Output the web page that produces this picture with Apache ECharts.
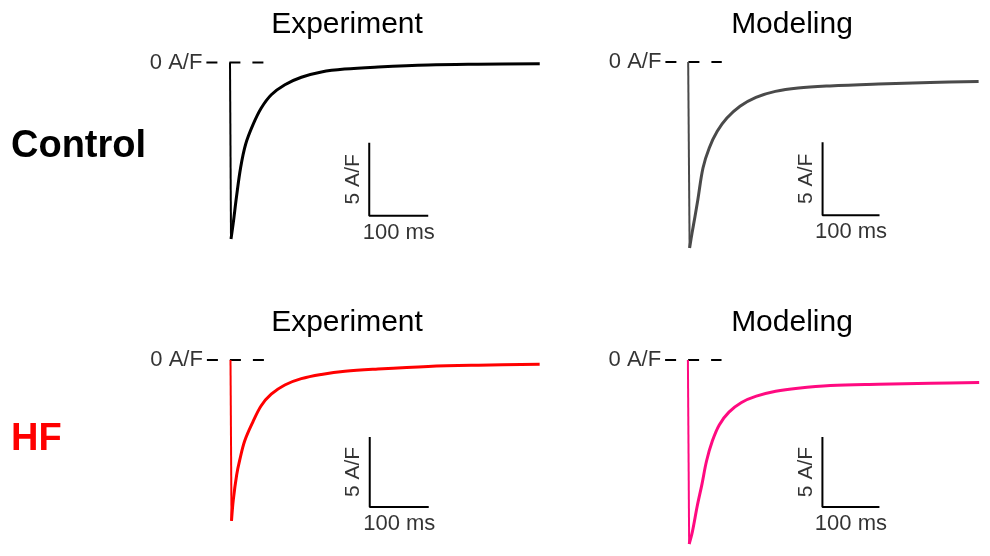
<!DOCTYPE html>
<html>
<head>
<meta charset="utf-8">
<script src="https://cdn.jsdelivr.net/npm/echarts@6/dist/echarts.min.js"></script>
<style>
  html, body { margin: 0; padding: 0; background: #fff; }
  #main { width: 990px; height: 556px; }
</style>
</head>
<body>
<div id="main"></div>
<script>
// current traces, time in ms after the step, current in A/F
var ctlExpT = [1.7, 5.5, 11, 18, 26.5, 39, 53, 70, 93, 121, 155, 194, 251, 336, 420, 525];
var ctlExpV = [-12.09, -11.0, -9.2, -7.2, -5.6, -4.26, -3.12, -2.21, -1.52, -1.01, -0.65, -0.45, -0.31, -0.17, -0.12, -0.09];

var ctlModT = [2.5, 6.8, 11.9, 16.9, 26, 37, 51, 68, 91, 119, 153, 193, 249, 334, 425, 510];
var ctlModV = [-12.74, -11.71, -10.6, -9.45, -7.26, -5.89, -4.75, -3.84, -3.03, -2.42, -2.01, -1.78, -1.64, -1.51, -1.40, -1.34];

var hfExpT = [1.7, 4.7, 10.5, 15.6, 24, 38, 52, 69, 92, 120, 154, 194, 250, 335, 420, 524];
var hfExpV = [-11.49, -10.01, -8.2, -7.16, -5.79, -4.42, -3.27, -2.45, -1.79, -1.34, -1.04, -0.81, -0.65, -0.47, -0.38, -0.31];

var hfModT = [2.2, 7.8, 16.3, 24.7, 32.7, 43, 55, 72, 94, 120, 154, 193, 250, 334, 426, 511];
var hfModV = [-13.14, -12.28, -10.45, -8.86, -7.21, -5.77, -4.63, -3.72, -3.03, -2.58, -2.23, -2.01, -1.82, -1.73, -1.66, -1.60];

// zero reference line and scale bars
var zeroLineT = [-40, 59];
var scaleBarT = [236, 336];      // 100 ms
var scaleBarV = [-10.5, -5.5];   // 5 A/F

var colTitles = ['Experiment', 'Modeling'];
var rowTitles = ['Control', 'HF'];

(function(){
  var myChart = echarts.init(document.getElementById('main'));
  var font = 'Liberation Sans, Arial, sans-serif';

  var panels = [
    { t: ctlExpT, v: ctlExpV, color: '#000000', left: 206.4, top: 47.9 },
    { t: ctlModT, v: ctlModV, color: '#4a4a4a', left: 665.4, top: 47.4 },
    { t: hfExpT,  v: hfExpV,  color: '#ff0000', left: 206.9, top: 345.9 },
    { t: hfModT,  v: hfModV,  color: '#ff0a80', left: 665.1, top: 346.1 }
  ];

  var grid = [], xAxis = [], yAxis = [], series = [];
  var lbl = { show: true, color: '#000', fontFamily: font };

  panels.forEach(function (p, i) {
    grid.push({ left: p.left, top: p.top, width: 336.3, height: 219 });
    xAxis.push({ type: 'value', gridIndex: i, min: -40, max: 530, show: false });
    yAxis.push({ type: 'value', gridIndex: i, min: -14, max: 1, show: false });

    var trace = p.t.map(function (t, k) { return [t, p.v[k]]; });

    // dashed 0 A/F line
    series.push({
      type: 'line', xAxisIndex: i, yAxisIndex: i, symbol: 'none', silent: true,
      data: zeroLineT.map(function (t) { return [t, 0]; }),
      lineStyle: { color: '#000', width: 2, type: [11, 12] }
    });
    // step down to the peak
    series.push({
      type: 'line', xAxisIndex: i, yAxisIndex: i, symbol: 'none', silent: true,
      data: [[0, 0], trace[0]],
      lineStyle: { color: p.color, width: 2 }
    });
    // decay
    series.push({
      type: 'line', xAxisIndex: i, yAxisIndex: i, symbol: 'none', silent: true,
      smooth: 0.35,
      data: trace,
      lineStyle: { color: p.color, width: 3 }
    });
    // scale bar
    series.push({
      type: 'line', xAxisIndex: i, yAxisIndex: i, symbol: 'none', silent: true,
      data: [[scaleBarT[1], scaleBarV[0]], [scaleBarT[0], scaleBarV[0]], [scaleBarT[0], scaleBarV[1]]],
      lineStyle: { color: '#000', width: 2 }
    });
    // labels
    series.push({
      type: 'scatter', xAxisIndex: i, yAxisIndex: i, symbolSize: 0, silent: true,
      data: [
        { value: [zeroLineT[0], 0], label: Object.assign({ position: 'left', distance: 4, formatter: '0 A/F', fontSize: 22 }, lbl) },
        { value: [(scaleBarT[0] + scaleBarT[1]) / 2, scaleBarV[0]], label: Object.assign({ position: 'bottom', distance: 6, formatter: '100 ms', fontSize: 22 }, lbl) },
        { value: [scaleBarT[0], (scaleBarV[0] + scaleBarV[1]) / 2], label: Object.assign({ position: 'left', distance: 6, rotate: 90, align: 'center', verticalAlign: 'bottom', formatter: '5 A/F', fontSize: 21 }, lbl) }
      ]
    });
  });

  var graphic = [];
  [347, 792].forEach(function (x, c) {
    [25, 323].forEach(function (y) {
      graphic.push({ type: 'text', x: x, y: y, style: { text: colTitles[c], font: '30px ' + font, fill: '#000', textAlign: 'center', textVerticalAlign: 'middle' } });
    });
  });
  graphic.push({ type: 'text', x: 11, y: 147, style: { text: rowTitles[0], font: 'bold 38px ' + font, fill: '#000', textAlign: 'left', textVerticalAlign: 'middle' } });
  graphic.push({ type: 'text', x: 11, y: 440, style: { text: rowTitles[1], font: 'bold 38px ' + font, fill: '#ff0000', textAlign: 'left', textVerticalAlign: 'middle' } });

  var option = {
    animation: false,
    backgroundColor: '#fff',
    grid: grid,
    xAxis: xAxis,
    yAxis: yAxis,
    graphic: graphic,
    series: series
  };
  myChart.setOption(option);
  window.addEventListener('resize', function () {
    myChart.resize();
  });
})();
</script>
</body>
</html>
